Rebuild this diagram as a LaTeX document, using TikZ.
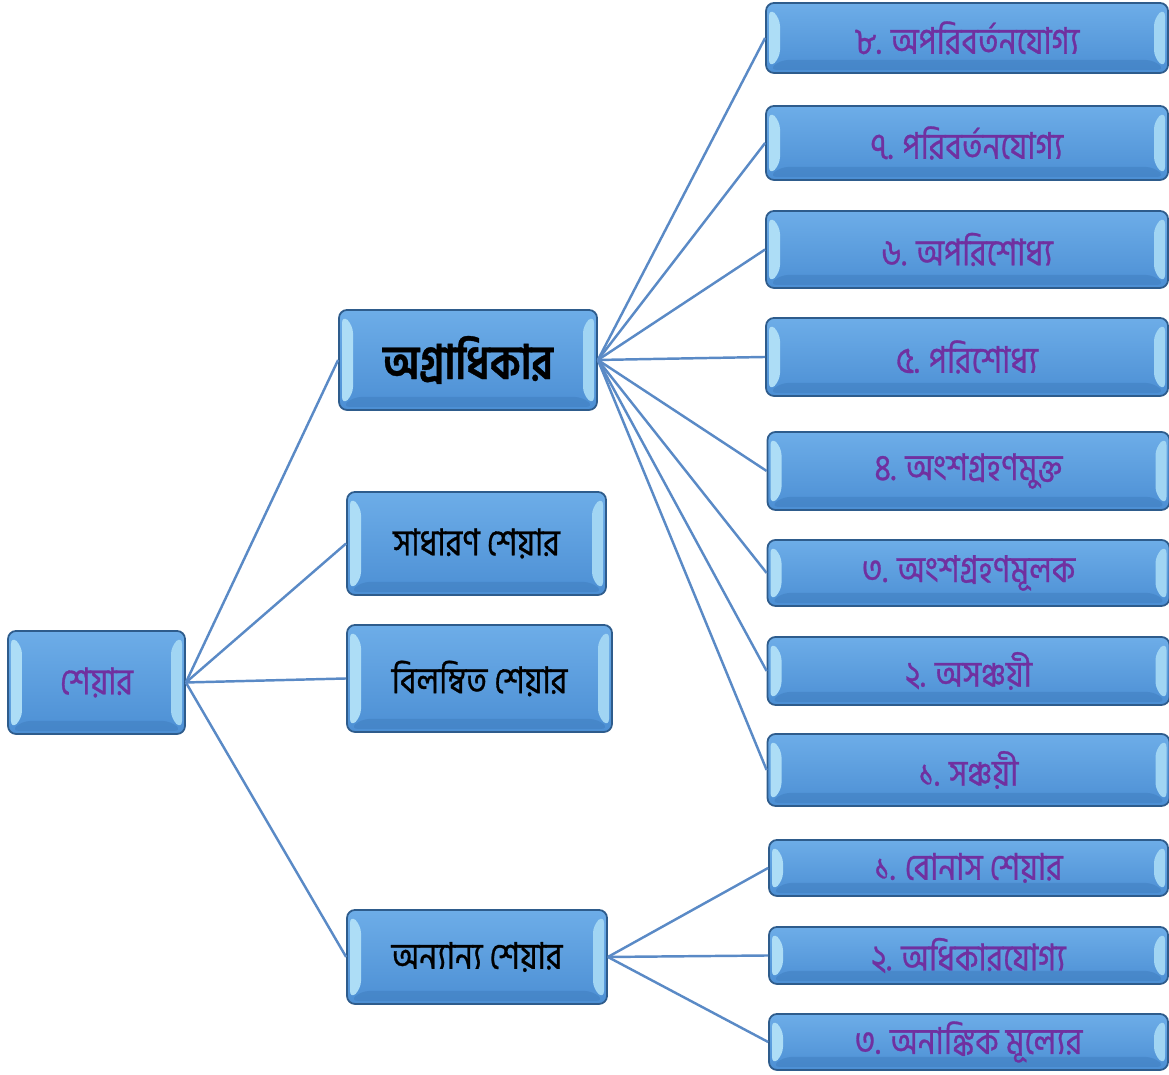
\documentclass[tikz,border=0pt]{standalone}
\usepackage{fontspec}
\newfontfamily\bnfont[Script=Bengali,FakeStretch=0.85,FakeBold=0.8]{Hind Siliguri}
\usetikzlibrary{calc,positioning}
\definecolor{boxtop}{HTML}{6DADE8}
\definecolor{boxbot}{HTML}{4C8FD4}
\definecolor{boxline}{HTML}{2E5C8C}
\definecolor{bevlight}{HTML}{B8E6F8}
\definecolor{bevdark}{HTML}{3F7DBE}
\definecolor{linkblue}{HTML}{5A8AC6}
\definecolor{txtpurple}{HTML}{7030A0}

\tikzset{
  sharebox/.style={rounded corners=0.08cm, draw=boxline, line width=0.5pt,
    top color=boxtop, bottom color=boxbot, font=\bnfont\fontsize{10.5}{13}\selectfont,
    inner sep=0pt,
    path picture={
      \path (path picture bounding box.south west) coordinate (pbsw)
            (path picture bounding box.north east) coordinate (pbne);
      \fill[bevlight!85!boxtop] ($(pbsw)+(0.03,0.05)$) -- ($(pbsw|-pbne)+(0.03,-0.05)$)
        -- ($(pbsw|-pbne)+(0.14,-0.15)$) -- ($(pbsw)+(0.14,0.15)$) -- cycle;
      \fill[bevlight!70!boxtop] ($(pbne)+(-0.03,-0.05)$) -- ($(pbne|-pbsw)+(-0.03,0.05)$)
        -- ($(pbne|-pbsw)+(-0.14,0.15)$) -- ($(pbne)+(-0.14,-0.15)$) -- cycle;
      \fill[bevdark,opacity=0.5] ($(pbsw)+(0.03,0.03)$) -- ($(pbne|-pbsw)+(-0.03,0.03)$)
        -- ($(pbne|-pbsw)+(-0.14,0.13)$) -- ($(pbsw)+(0.14,0.13)$) -- cycle;
    }},
  leafbox/.style={sharebox, minimum width=4.02cm, text=txtpurple},
  midbox/.style={sharebox, text=black},
  link/.style={draw=linkblue, line width=0.7pt}
}

\begin{document}
\begin{tikzpicture}
  \useasboundingbox (0,0) rectangle (11.69,10.75);
  % root
  \node[sharebox, text=txtpurple, minimum width=1.77cm, minimum height=1.03cm] (share) at (0.965,3.925) {শেয়ার};
  % second level
  \node[midbox, minimum width=2.58cm, minimum height=1.00cm, font=\bnfont\bfseries\fontsize{13.5}{16}\selectfont] (pref) at (4.68,7.15) {অগ্রাধিকার};
  \node[midbox, minimum width=2.59cm, minimum height=1.03cm] (ordin) at (4.765,5.315) {সাধারণ শেয়ার};
  \node[midbox, minimum width=2.65cm, minimum height=1.07cm] (defer) at (4.795,3.965) {বিলম্বিত শেয়ার};
  \node[midbox, minimum width=2.60cm, minimum height=0.94cm] (other) at (4.77,1.18) {অন্যান্য শেয়ার};
  % preference share leaves
  \node[leafbox, minimum height=0.70cm] (p8) at (9.67,10.37) {৮. অপরিবর্তনযোগ্য};
  \node[leafbox, minimum height=0.74cm] (p7) at (9.67,9.32) {৭. পরিবর্তনযোগ্য};
  \node[leafbox, minimum height=0.77cm] (p6) at (9.67,8.255) {৬. অপরিশোধ্য};
  \node[leafbox, minimum height=0.78cm] (p5) at (9.67,7.18) {৫. পরিশোধ্য};
  \node[leafbox, minimum height=0.78cm] (p4) at (9.685,6.04) {৪. অংশগ্রহণমুক্ত};
  \node[leafbox, minimum height=0.66cm] (p3) at (9.685,5.02) {৩. অংশগ্রহণমূলক};
  \node[leafbox, minimum height=0.68cm] (p2) at (9.685,4.04) {২. অসঞ্চয়ী};
  \node[leafbox, minimum height=0.72cm] (p1) at (9.685,3.05) {১. সঞ্চয়ী};
  % other share leaves
  \node[leafbox, minimum width=3.99cm, minimum height=0.56cm] (o1) at (9.685,2.07) {১. বোনাস শেয়ার};
  \node[leafbox, minimum width=3.99cm, minimum height=0.57cm] (o2) at (9.685,1.195) {২. অধিকারযোগ্য};
  \node[leafbox, minimum width=3.99cm, minimum height=0.56cm] (o3) at (9.685,0.33) {৩. অনাঙ্কিক মূল্যের};
  % connectors
  \foreach \c in {pref,ordin,defer,other} \draw[link] (share.east) -- (\c.west);
  \foreach \c in {p8,p7,p6,p5,p4,p3,p2,p1} \draw[link] (pref.east) -- (\c.west);
  \foreach \c in {o1,o2,o3} \draw[link] (other.east) -- (\c.west);
\end{tikzpicture}
\end{document}
